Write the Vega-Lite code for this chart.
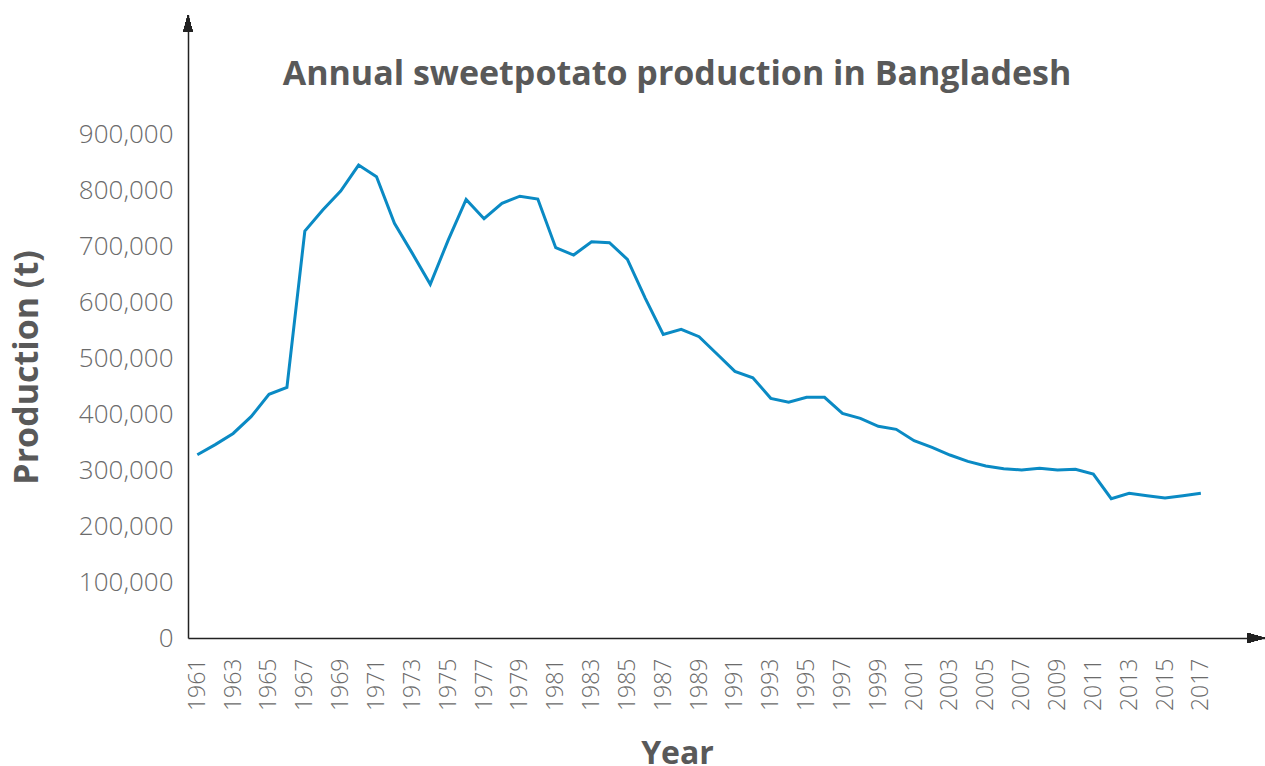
{
  "$schema": "https://vega.github.io/schema/vega-lite/v6.json",
  "width": 1077,
  "height": 623,
  "autosize": {"type": "none"},
  "padding": {"left": 188, "top": 15, "right": 0, "bottom": 128},
  "background": "white",
  "config": {
    "view": {"stroke": null},
    "font": "Open Sans",
    "axis": {"labelOverlap": false, "grid": false, "ticks": false}
  },
  "title": {
    "text": "Annual sweetpotato production in Bangladesh",
    "font": "Open Sans",
    "fontSize": 34,
    "fontWeight": "bold",
    "color": "#595959",
    "anchor": "middle",
    "frame": "group",
    "baseline": "alphabetic",
    "offset": 0,
    "dx": -49.5,
    "dy": 104
  },
  "data": {
    "values": [
      {"year": 1961, "production": 328000},
      {"year": 1962, "production": 346000},
      {"year": 1963, "production": 366000},
      {"year": 1964, "production": 396000},
      {"year": 1965, "production": 436000},
      {"year": 1966, "production": 448500},
      {"year": 1967, "production": 728000},
      {"year": 1968, "production": 765700},
      {"year": 1969, "production": 799700},
      {"year": 1970, "production": 846200},
      {"year": 1971, "production": 825300},
      {"year": 1972, "production": 741900},
      {"year": 1973, "production": 688200},
      {"year": 1974, "production": 632800},
      {"year": 1975, "production": 712000},
      {"year": 1976, "production": 784800},
      {"year": 1977, "production": 750200},
      {"year": 1978, "production": 777700},
      {"year": 1979, "production": 790500},
      {"year": 1980, "production": 785400},
      {"year": 1981, "production": 698300},
      {"year": 1982, "production": 685200},
      {"year": 1983, "production": 709000},
      {"year": 1984, "production": 707200},
      {"year": 1985, "production": 677500},
      {"year": 1986, "production": 607700},
      {"year": 1987, "production": 543300},
      {"year": 1988, "production": 552200},
      {"year": 1989, "production": 539100},
      {"year": 1990, "production": 508100},
      {"year": 1991, "production": 477100},
      {"year": 1992, "production": 465700},
      {"year": 1993, "production": 428800},
      {"year": 1994, "production": 421700},
      {"year": 1995, "production": 430600},
      {"year": 1996, "production": 430600},
      {"year": 1997, "production": 402000},
      {"year": 1998, "production": 393000},
      {"year": 1999, "production": 378700},
      {"year": 2000, "production": 373400},
      {"year": 2001, "production": 353000},
      {"year": 2002, "production": 341100},
      {"year": 2003, "production": 327400},
      {"year": 2004, "production": 316100},
      {"year": 2005, "production": 307700},
      {"year": 2006, "production": 302900},
      {"year": 2007, "production": 300600},
      {"year": 2008, "production": 303600},
      {"year": 2009, "production": 300600},
      {"year": 2010, "production": 301800},
      {"year": 2011, "production": 293400},
      {"year": 2012, "production": 249200},
      {"year": 2013, "production": 258800},
      {"year": 2014, "production": 254600},
      {"year": 2015, "production": 250500},
      {"year": 2016, "production": 254600},
      {"year": 2017, "production": 258800}
    ]
  },
  "resolve": {"axis": {"x": "independent", "y": "independent"}},
  "layer": [
    {
      "mark": {"type": "line", "color": "#0a8ac4", "strokeWidth": 3, "strokeJoin": "miter"},
      "encoding": {
        "x": {
          "field": "year",
          "type": "quantitative",
          "scale": {"domain": [1960.48, 2020.58], "nice": false, "zero": false},
          "axis": {
            "title": "Year",
            "values": [1961,1963,1965,1967,1969,1971,1973,1975,1977,1979,1981,1983,1985,1987,1989,1991,1993,1995,1997,1999,2001,2003,2005,2007,2009,2011,2013,2015,2017],
            "format": "d",
            "labelAngle": 270,
            "labelAlign": "right",
            "labelBaseline": "middle",
            "labelFont": "Open Sans",
            "labelFontWeight": 300,
            "labelFontSize": 23,
            "labelColor": "#6b6b6b",
            "labelPadding": 20,
            "labelOverlap": false,
            "labelFlush": false,
            "labelBound": false,
            "ticks": false,
            "grid": false,
            "domainColor": "#222222",
            "domainWidth": 1.5,
            "titleFont": "Open Sans",
            "titleFontSize": 32,
            "titleFontWeight": "bold",
            "titleColor": "#595959",
            "titleX": 489,
            "titleY": 125,
            "titleAlign": "center",
            "titleBaseline": "alphabetic"
          }
        },
        "y": {
          "field": "production",
          "type": "quantitative",
          "scale": {"domain": [0, 1114700], "nice": false},
          "axis": {
            "title": "Production (t)",
            "values": [0,100000,200000,300000,400000,500000,600000,700000,800000,900000],
            "format": ",d",
            "labelFont": "Open Sans",
            "labelFontWeight": 300,
            "labelFontSize": 26,
            "labelColor": "#6b6b6b",
            "labelPadding": 15,
            "labelOverlap": false,
            "ticks": false,
            "grid": false,
            "domainColor": "#222222",
            "domainWidth": 1.5,
            "titleFont": "Open Sans",
            "titleFontSize": 34,
            "titleFontWeight": "bold",
            "titleColor": "#595959",
            "titleAngle": 270,
            "titleX": -151,
            "titleY": 352,
            "titleAlign": "center",
            "titleBaseline": "alphabetic"
          }
        }
      }
    },
    {
      "mark": {"type": "point", "shape": "M0,-1L0.55,1L-0.55,1Z", "filled": true, "color": "#222222", "opacity": 1, "size": 289, "strokeWidth": 0},
      "encoding": {
        "x": {"datum": 1960.48, "type": "quantitative", "axis": null},
        "y": {"datum": 1099500, "type": "quantitative", "axis": null}
      }
    },
    {
      "mark": {"type": "point", "shape": "M1,0L-1,0.55L-1,-0.55Z", "filled": true, "color": "#222222", "opacity": 1, "size": 289, "strokeWidth": 0},
      "encoding": {
        "x": {"datum": 2020.1, "type": "quantitative", "axis": null},
        "y": {"datum": 0, "type": "quantitative", "axis": null}
      }
    }
  ]
}
